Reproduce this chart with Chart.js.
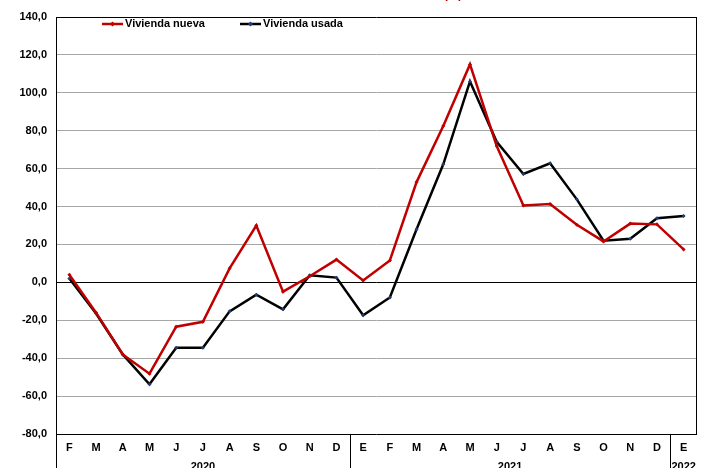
<!DOCTYPE html>
<html>
<head>
<meta charset="utf-8">
<script src="https://cdn.jsdelivr.net/npm/chart.js@4/dist/chart.umd.min.js"></script>
<style>
  html, body { margin: 0; padding: 0; background: #fff; }
  #wrap { width: 707px; height: 468px; position: relative; }
</style>
</head>
<body>
<div id="wrap"><canvas id="myChart" width="707" height="468"></canvas></div>
<script>
const months = ['F', 'M', 'A', 'M', 'J', 'J', 'A', 'S', 'O', 'N', 'D',
  'E', 'F', 'M', 'A', 'M', 'J', 'J', 'A', 'S', 'O', 'N', 'D', 'E']
const years = [
  { label: '2020', from: 0, to: 10 },
  { label: '2021', from: 11, to: 22 },
  { label: '2022', from: 23, to: 23 },
]
const nueva = [4.0, -16.0, -38.0, -48.2, -23.4, -20.8, 7.4, 30.0, -4.9, 3.2, 12.0,
  1.0, 11.6, 52.9, 82.5, 115.0, 71.9, 40.6, 41.3, 30.4, 21.6, 31.0, 30.6, 17.4]
const usada = [2.1, -16.4, -38.0, -53.8, -34.5, -34.5, -15.3, -6.5, -14.2, 3.7, 2.5,
  -17.4, -8.0, 28.0, 62.3, 106.0, 74.2, 57.2, 62.8, 43.8, 22.0, 23.0, 33.8, 35.0]
const yTicks = [140, 120, 100, 80, 60, 40, 20, 0, -20, -40, -60, -80]

const FONT = "'Liberation Sans', Arial, sans-serif"
const red = '#c00000'
const black = '#000000'

const extras = {
  id: 'extras',
  afterDraw(chart) {
    const { ctx, chartArea: a, scales: { x } } = chart
    const H = chart.height
    ctx.save()
    ctx.strokeStyle = '#000'
    ctx.lineWidth = 1
    // frame
    ctx.beginPath()
    ctx.moveTo(a.left + 0.5, a.top)
    ctx.lineTo(a.left + 0.5, H)
    ctx.moveTo(a.right - 0.5, a.top)
    ctx.lineTo(a.right - 0.5, a.bottom)
    ctx.stroke()
    // year separators and labels
    ctx.font = 'bold 11px ' + FONT
    ctx.fillStyle = '#000'
    ctx.textAlign = 'center'
    ctx.textBaseline = 'top'
    const step = x.getPixelForValue(1) - x.getPixelForValue(0)
    years.forEach((yr, i) => {
      const l = x.getPixelForValue(yr.from) - step / 2
      const r = Math.min(x.getPixelForValue(yr.to) + step / 2, a.right)
      if (i > 0) {
        ctx.beginPath()
        ctx.moveTo(Math.round(l) + 0.5, a.bottom)
        ctx.lineTo(Math.round(l) + 0.5, H)
        ctx.stroke()
      }
      ctx.fillText(yr.label, (l + r) / 2, H - 7)
    })
    // legend
    ctx.textAlign = 'left'
    ctx.textBaseline = 'middle'
    ctx.font = 'bold 11px ' + FONT
    let lx = a.left + 46
    chart.data.datasets.forEach(ds => {
      const ly = a.top + 7
      ctx.strokeStyle = ds.borderColor
      ctx.lineWidth = 2.5
      ctx.beginPath()
      ctx.moveTo(lx, ly)
      ctx.lineTo(lx + 21, ly)
      ctx.stroke()
      ctx.fillStyle = ds.pointBackgroundColor
      ctx.beginPath()
      ctx.moveTo(lx + 10.5, ly - 2.5)
      ctx.lineTo(lx + 13, ly)
      ctx.lineTo(lx + 10.5, ly + 2.5)
      ctx.lineTo(lx + 8, ly)
      ctx.closePath()
      ctx.fill()
      ctx.fillStyle = '#000'
      ctx.fillText(ds.label, lx + 23, ly)
      lx += 138
    })
    // clipped title remnant
    ctx.fillStyle = red
    ctx.font = 'bold 12px ' + FONT
    ctx.textAlign = 'center'
    ctx.textBaseline = 'alphabetic'
    ctx.fillText('(%)', 453, -2)
    ctx.restore()
  },
}

const ctx = document.getElementById('myChart').getContext('2d')
const myLineChart = new Chart(ctx, {
  type: 'line',
  data: {
    labels: months,
    datasets: [
      {
        label: 'Vivienda nueva',
        data: nueva,
        borderColor: red,
        backgroundColor: red,
        pointBackgroundColor: red,
        pointBorderColor: red,
        borderWidth: 2.5,
        pointStyle: 'rectRot',
        pointRadius: 2,
        pointBorderWidth: 0,
        tension: 0,
      },
      {
        label: 'Vivienda usada',
        data: usada,
        borderColor: black,
        backgroundColor: black,
        pointBackgroundColor: '#1f3c78',
        pointBorderColor: '#1f3c78',
        borderWidth: 2.5,
        pointStyle: 'rectRot',
        pointRadius: 2,
        pointBorderWidth: 0,
        tension: 0,
      },
    ],
  },
  options: {
    responsive: false,
    animation: false,
    layout: { padding: { left: 0, top: 17, right: 10, bottom: 0 } },
    plugins: { legend: { display: false }, tooltip: { enabled: false } },
    scales: {
      x: {
        offset: true,
        grid: { display: false, drawTicks: false },
        border: { display: false },
        ticks: {
          color: '#000',
          font: { family: FONT, size: 11, weight: 'bold' },
          maxRotation: 0,
          autoSkip: false,
          padding: 7,
        },
        afterFit(scale) { scale.height = 34 },
      },
      y: {
        min: -80,
        max: 140,
        afterBuildTicks(scale) { scale.ticks = yTicks.map(v => ({ value: v })) },
        grid: {
          drawTicks: false,
          lineWidth: 1,
          color: c => ([0, 140, -80].includes(c.tick.value) ? '#000' : '#a6a6a6'),
        },
        border: { display: false },
        ticks: {
          color: '#000',
          font: { family: FONT, size: 11, weight: 'bold' },
          padding: 9,
          callback: v => v.toFixed(1).replace('.', ','),
        },
        afterFit(scale) { scale.width = 56 },
      },
    },
  },
  plugins: [extras],
})
</script>
</body>
</html>
